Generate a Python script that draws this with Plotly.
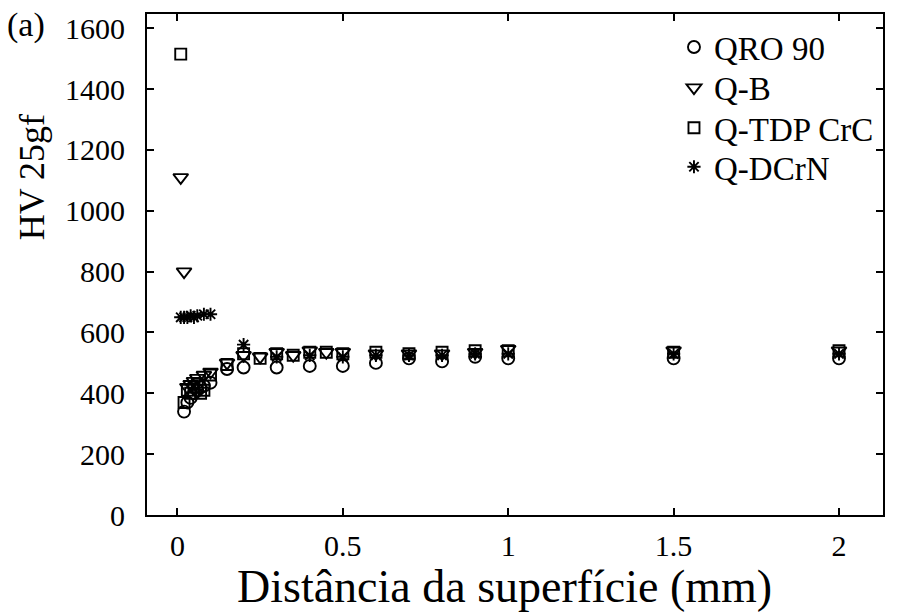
import plotly.graph_objects as go

# ---- data ----
x_qro = [0.02, 0.03, 0.04, 0.05, 0.06, 0.07, 0.08, 0.1, 0.15, 0.2, 0.3, 0.4, 0.5, 0.6, 0.7, 0.8, 0.9, 1.0, 1.5, 2.0]
y_qro = [340, 370, 385, 400, 410, 420, 425, 435, 480, 485, 485, 490, 490, 500, 515, 505, 520, 515, 515, 515]

x_qb = [0.01, 0.02, 0.03, 0.04, 0.05, 0.06, 0.08, 0.1, 0.15, 0.2, 0.25, 0.3, 0.35, 0.4, 0.45, 0.5, 0.6, 0.7, 0.8, 0.9, 1.0, 1.5, 2.0]
y_qb = [1110, 800, 420, 430, 440, 450, 460, 470, 500, 525, 520, 535, 525, 540, 535, 535, 530, 530, 530, 535, 545, 540, 540]

x_tdp = [0.01, 0.02, 0.03, 0.04, 0.05, 0.06, 0.07, 0.08, 0.1, 0.15, 0.2, 0.25, 0.3, 0.35, 0.4, 0.45, 0.5, 0.6, 0.7, 0.8, 0.9, 1.0, 1.5, 2.0]
y_tdp = [1515, 370, 410, 400, 420, 430, 400, 410, 460, 495, 530, 515, 530, 525, 535, 535, 530, 535, 530, 535, 540, 540, 535, 540]

x_dcrn = [0.01, 0.02, 0.03, 0.04, 0.05, 0.06, 0.08, 0.1, 0.2, 0.3, 0.4, 0.5, 0.6, 0.7, 0.8, 0.9, 1.0, 1.5, 2.0]
y_dcrn = [650, 650, 650, 655, 650, 655, 660, 660, 560, 520, 525, 520, 525, 525, 525, 530, 530, 530, 530]

series_names = ["QRO 90", "Q-B", "Q-TDP CrC", "Q-DCrN"]
x_ticks = [0, 0.5, 1, 1.5, 2]
x_tick_text = ["0", "0.5", "1", "1.5", "2"]
y_ticks = [0, 200, 400, 600, 800, 1000, 1200, 1400, 1600]

FONT = "Liberation Serif"

fig = go.Figure()
specs = [
    (x_qro, y_qro, "circle-open", 12),
    (x_qb, y_qb, "triangle-down-open", 13),
    (x_tdp, y_tdp, "square-open", 11),
    (x_dcrn, y_dcrn, "asterisk-open", 11),
]
legend_ids = ["legend", "legend2", "legend3", "legend4"]
for name, (xs, ys, sym, sz), lg in zip(series_names, specs, legend_ids):
    fig.add_trace(go.Scatter(
        x=xs, y=ys, mode="markers", name=name, legend=lg,
        marker=dict(symbol=sym, size=sz, color="black",
                    line=dict(color="black", width=1.9)),
    ))

axis_common = dict(
    showline=True, linecolor="black", linewidth=2, mirror="ticks",
    ticks="inside", ticklen=7, tickwidth=1.5, tickcolor="black",
    showgrid=False, zeroline=False, automargin=False,
    tickfont=dict(family=FONT, size=30, color="black"),
)

legend_rows_y = [0.934, 0.853, 0.773, 0.695]
legend_style = dict(x=0.716, xanchor="left", yanchor="middle",
                    font=dict(family=FONT, size=33, color="black"),
                    bgcolor="rgba(0,0,0,0)", borderwidth=0, itemwidth=30)
legend_layout = {lg: dict(y=yy, **legend_style) for lg, yy in zip(legend_ids, legend_rows_y)}

fig.update_layout(
    width=899, height=612,
    margin=dict(l=147, r=16, t=14, b=97),
    paper_bgcolor="white", plot_bgcolor="white",
    font=dict(family=FONT, color="black"),
    xaxis=dict(range=[-0.092, 2.133], tickvals=x_ticks, ticktext=x_tick_text,
               ticklabelstandoff=3, **axis_common),
    yaxis=dict(range=[0, 1647], tickvals=y_ticks, ticklabelstandoff=14,
               **axis_common),
    showlegend=True,
    **legend_layout,
)

# axis titles and panel label
fig.add_annotation(text="Distância da superfície (mm)", xref="paper", yref="paper",
                   x=0.486, y=-0.143, xanchor="center", yanchor="middle", showarrow=False,
                   font=dict(family=FONT, size=46, color="black"))
fig.add_annotation(text="HV 25gf", xref="paper", yref="paper", textangle=-90,
                   x=-0.157, y=0.675, xanchor="center", yanchor="middle", showarrow=False,
                   font=dict(family=FONT, size=36, color="black"))
fig.add_annotation(text="(a)", xref="paper", yref="paper", x=-0.193, y=0.978,
                   xanchor="left", yanchor="middle", showarrow=False,
                   font=dict(family=FONT, size=34, color="black"))

fig.write_html("out.html", config={"displayModeBar": False},
               post_script="document.body.style.margin='0px';")
